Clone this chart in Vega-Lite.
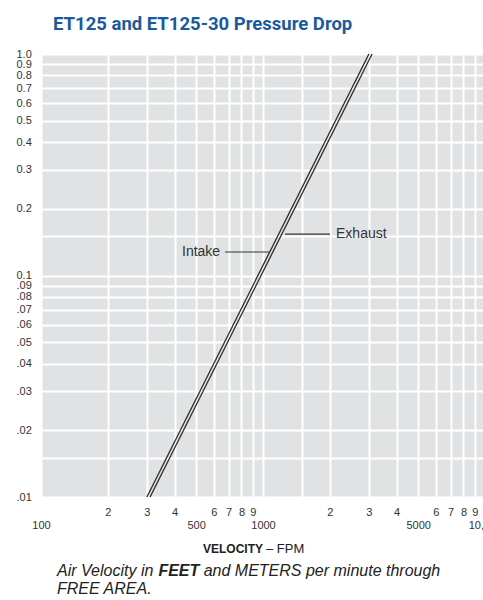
{
  "$schema": "https://vega.github.io/schema/vega-lite/v6.json",
  "width": 444,
  "height": 443,
  "autosize": "none",
  "padding": {"left": 41, "top": 54, "right": 0, "bottom": 103},
  "background": "white",
  "title": {
    "text": "ET125 and ET125-30 Pressure Drop",
    "anchor": "start",
    "frame": "group",
    "dx": 12,
    "offset": 15,
    "font": "Roboto",
    "fontSize": 18.5,
    "fontWeight": "bold",
    "color": "#1a5a9c"
  },
  "config": {
    "view": {"fill": "#e1e2e4", "stroke": null},
    "axis": {
      "domain": false,
      "ticks": false,
      "grid": true,
      "gridColor": "#ffffff",
      "gridWidth": 2,
      "gridOpacity": 1,
      "labelFont": "Liberation Sans",
      "labelFontSize": 11,
      "labelColor": "#333333"
    }
  },
  "datasets": {
    "curves": [
      {"series": "Intake", "v": 300, "p": 0.01},
      {"series": "Intake", "v": 3000, "p": 1.0},
      {"series": "Exhaust", "v": 310, "p": 0.01},
      {"series": "Exhaust", "v": 3100, "p": 1.0}
    ],
    "leaders": [
      {"series": "Intake", "v": 674, "v2": 1075, "p": 0.1277},
      {"series": "Exhaust", "v": 1256, "v2": 2004, "p": 0.1539}
    ],
    "labels": [
      {"text": "Intake", "v": 431.6, "p": 0.1277},
      {"text": "Exhaust", "v": 2133, "p": 0.1539}
    ],
    "axistitle_bold": [
      {"text": "VELOCITY", "v": 1000, "p": 0.005588}
    ],
    "axistitle_plain": [
      {"text": "– FPM", "v": 1031.6, "p": 0.005588}
    ],
    "caption_plain": [
      {"text": "Air Velocity in", "v": 118.1, "p": 0.004397},
      {"text": "and METERS per minute through", "v": 540.6, "p": 0.004397},
      {"text": "FREE AREA.", "v": 118.1, "p": 0.003648}
    ],
    "caption_bold": [
      {"text": "FEET", "v": 338.0, "p": 0.004397}
    ]
  },
  "encoding": {
    "x": {
      "field": "v",
      "type": "quantitative",
      "scale": {"type": "log", "domain": [100, 10000], "nice": false, "zero": false},
      "axis": {
        "title": null,
        "values": [100, 200, 300, 400, 500, 600, 700, 800, 900, 1000, 1500, 2000, 3000, 4000, 5000, 6000, 7000, 8000, 9000, 10000],
        "labelExpr": "indexof([100, 500, 1000, 5000, 10000], datum.value) >= 0 ? ['', datum.value == 10000 ? '10,000' : '' + datum.value] : datum.value == 1500 ? '' : '' + round(datum.value / pow(10, floor(log(datum.value) / LN10 + 0.000001)))",
        "labelBaseline": "top",
        "labelPadding": 9,
        "labelLineHeight": 13,
        "labelOverlap": false,
        "labelFlush": false
      }
    },
    "y": {
      "field": "p",
      "type": "quantitative",
      "scale": {"type": "log", "domain": [0.01, 1], "nice": false, "zero": false},
      "axis": {
        "title": null,
        "values": [0.01, 0.015, 0.02, 0.03, 0.04, 0.05, 0.06, 0.07, 0.08, 0.09, 0.1, 0.15, 0.2, 0.3, 0.4, 0.5, 0.6, 0.7, 0.8, 0.9, 1],
        "labelExpr": "datum.value == 0.015 || datum.value == 0.15 ? '' : datum.value >= 0.1 ? format(datum.value, '.1f') : slice(format(datum.value, '.2f'), 1)",
        "labelAlign": "left",
        "labelBaseline": "middle",
        "labelPadding": 25,
        "labelOverlap": false,
        "labelFlush": false
      }
    }
  },
  "layer": [
    {
      "data": {"name": "curves"},
      "mark": {"type": "line", "color": "#2a2a2a", "strokeWidth": 1.3},
      "encoding": {"detail": {"field": "series"}}
    },
    {
      "data": {"name": "leaders"},
      "mark": {"type": "rule", "color": "#333333", "strokeWidth": 1.2},
      "encoding": {"x2": {"field": "v2"}}
    },
    {
      "data": {"name": "labels"},
      "mark": {"type": "text", "align": "left", "baseline": "middle", "font": "Liberation Sans", "fontSize": 14, "color": "#333333"},
      "encoding": {"text": {"field": "text"}}
    },
    {
      "data": {"name": "axistitle_bold"},
      "mark": {"type": "text", "align": "right", "baseline": "alphabetic", "font": "Liberation Sans", "fontSize": 12, "fontWeight": "bold", "color": "#222222"},
      "encoding": {"text": {"field": "text"}}
    },
    {
      "data": {"name": "axistitle_plain"},
      "mark": {"type": "text", "align": "left", "baseline": "alphabetic", "font": "Liberation Sans", "fontSize": 13, "color": "#222222"},
      "encoding": {"text": {"field": "text"}}
    },
    {
      "data": {"name": "caption_plain"},
      "mark": {"type": "text", "align": "left", "baseline": "alphabetic", "font": "Liberation Sans", "fontSize": 16, "fontStyle": "italic", "color": "#222222"},
      "encoding": {"text": {"field": "text"}}
    },
    {
      "data": {"name": "caption_bold"},
      "mark": {"type": "text", "align": "left", "baseline": "alphabetic", "font": "Liberation Sans", "fontSize": 16, "fontStyle": "italic", "fontWeight": "bold", "color": "#222222"},
      "encoding": {"text": {"field": "text"}}
    }
  ]
}
